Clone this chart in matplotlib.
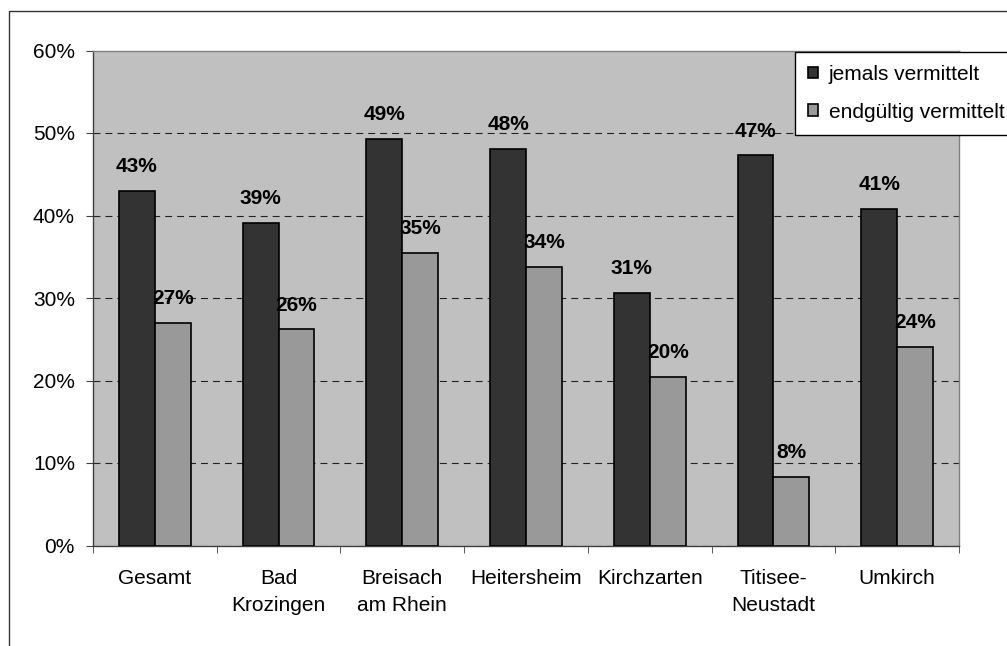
import numpy as np
import matplotlib
matplotlib.use('Agg')
import matplotlib.pyplot as plt
import matplotlib.patches as mpatches

plt.rcParams['font.family'] = ['Liberation Sans', 'DejaVu Sans']
plt.rcParams['lines.scale_dashes'] = False

categories = ['Gesamt', 'Bad\nKrozingen', 'Breisach\nam Rhein', 'Heitersheim',
              'Kirchzarten', 'Titisee-\nNeustadt', 'Umkirch']
jemals = [43.0, 39.1, 49.3, 48.1, 30.6, 47.3, 40.8]
endgueltig = [27.0, 26.2, 35.5, 33.8, 20.4, 8.3, 24.1]
jemals_labels = ['43%', '39%', '49%', '48%', '31%', '47%', '41%']
endgueltig_labels = ['27%', '26%', '35%', '34%', '20%', '8%', '24%']
series_names = ['jemals vermittelt', 'endgültig vermittelt']
yticks = [0, 10, 20, 30, 40, 50, 60]

W, H = 1007, 646
fs = 15

fig = plt.figure(figsize=(W / 100, H / 100), dpi=100)
ax = fig.add_axes([93 / W, 1 - 545.5 / H, (959 - 93) / W, (545.5 - 50.5) / H])
ax.set_facecolor('#c0c0c0')

x = np.arange(len(categories))
width = 0.29
b1 = ax.bar(x - width / 2, jemals, width, color='#333333', edgecolor='black', linewidth=1.2,
            label=series_names[0], zorder=3)
b2 = ax.bar(x + width / 2, endgueltig, width, color='#999999', edgecolor='black', linewidth=1.2,
            label=series_names[1], zorder=3)

for xi, v, t in zip(x - width / 2, jemals, jemals_labels):
    ax.annotate(t, (xi, v), xytext=(0, 13.5), textcoords='offset points',
                ha='center', va='baseline', fontsize=fs, fontweight='bold', zorder=4)
for xi, v, t in zip(x + width / 2, endgueltig, endgueltig_labels):
    ax.annotate(t, (xi, v), xytext=(0, 13.5), textcoords='offset points',
                ha='center', va='baseline', fontsize=fs, fontweight='bold', zorder=4)

ax.set_xlim(-0.5, len(categories) - 0.5)
ax.set_ylim(0, 60)
ax.set_yticks(yticks)
ax.set_yticklabels(['{}%'.format(t) for t in yticks], fontsize=fs)
ax.set_xticks(x)
ax.set_xticklabels(categories, fontsize=fs, linespacing=1.5)
ax.set_xticks(np.arange(-0.5, len(categories), 1), minor=True)
ax.tick_params(axis='x', which='major', length=0, pad=17)
ax.tick_params(axis='x', which='minor', length=5, color='#404040')
ax.tick_params(axis='y', length=5, pad=8, color='#404040')

ax.yaxis.grid(True, color='#222222', linewidth=0.8, linestyle=(0, (5, 3.6)))
ax.set_axisbelow(True)
# 60% line is the top frame, no dashed grid there
ax.yaxis.get_gridlines()[-1].set_visible(False)

ax.spines['left'].set_color('#404040')
ax.spines['bottom'].set_color('#404040')
ax.spines['top'].set_color('#808080')
ax.spines['right'].set_color('#808080')
for s in ax.spines.values():
    s.set_linewidth(1.0)

leg = fig.legend(handles=[b1, b2], loc='upper left', mode='expand',
                 bbox_to_anchor=(795 / W, 1 - 131 / H, 240 / W, 79 / H),
                 bbox_transform=fig.transFigure, fontsize=fs, fancybox=False,
                 framealpha=1, edgecolor='black', borderaxespad=0,
                 handlelength=0.5, handleheight=0.5, handletextpad=0.5,
                 labelspacing=0.9, borderpad=0.62)
leg.get_frame().set_linewidth(1.0)

# outer chart border (cut off at right and bottom)
fig.add_artist(mpatches.Rectangle((9 / W, -0.1), 1.2, (1 - 11 / H) + 0.1,
                                  transform=fig.transFigure, fill=False,
                                  edgecolor='#333333', linewidth=1.0))

fig.savefig('out.png', dpi=100)
